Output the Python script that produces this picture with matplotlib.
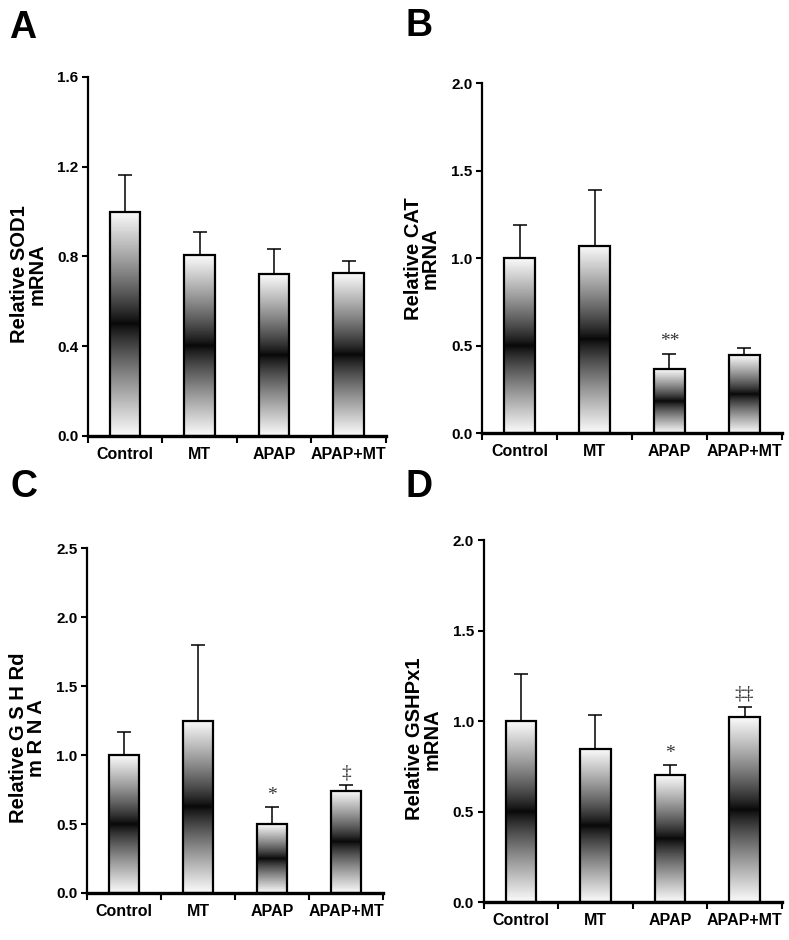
import numpy as np
import matplotlib.pyplot as plt

groups = ['Control', 'MT', 'APAP', 'APAP+MT']

sod1 = [1.0, 0.805, 0.72, 0.725]
sod1_err = [0.165, 0.105, 0.115, 0.055]

cat = [1.0, 1.07, 0.365, 0.445]
cat_err = [0.19, 0.32, 0.09, 0.045]

gshrd = [1.0, 1.25, 0.50, 0.74]
gshrd_err = [0.165, 0.55, 0.12, 0.04]

gshpx1 = [1.0, 0.845, 0.70, 1.02]
gshpx1_err = [0.26, 0.19, 0.055, 0.06]

marks_b = ['', '', '**', '']
marks_c = ['', '', '*', '\u2021']
marks_d = ['', '', '*', '\u2021\u2021']

sans = ['Liberation Sans', 'DejaVu Sans']
serif = ['Liberation Serif', 'DejaVu Serif']

fig = plt.figure(figsize=(7.89, 9.40), dpi=100)

# gradient: white at ends, black in the middle of each bar
t = np.linspace(0, 1, 200)
grad = 0.03 + 0.95 * np.abs(2 * t - 1) ** 0.85
grad = grad[:, None]


def panel(rect, vals, errs, ymax, step, ylabel, letter, letter_pos, marks, label_y):
    ax = fig.add_axes(rect)
    x = np.arange(len(vals))
    w = 0.41
    for xi, v in zip(x, vals):
        ax.imshow(grad, cmap='gray', vmin=0, vmax=1, aspect='auto',
                  extent=[xi - w / 2, xi + w / 2, 0, v], zorder=1,
                  interpolation='bilinear')
    ax.bar(x, vals, width=w, facecolor='none', edgecolor='black',
           linewidth=1.6, zorder=2)
    ax.errorbar(x, vals, yerr=[np.zeros(len(errs)), errs], fmt='none',
                ecolor='black', elinewidth=1.1, capsize=5, capthick=1.1,
                zorder=1.5)
    for xi, v, e, m in zip(x, vals, errs, marks):
        if m:
            ax.text(xi, v + e + ymax * 0.01, m, ha='center', va='bottom',
                    fontsize=14, family=serif, color='#333333')
    ax.set_xlim(-0.5, len(vals) - 0.5)
    ax.set_ylim(0, ymax)
    ticks = np.arange(0, ymax + 1e-9, step)
    ax.set_yticks(ticks)
    ax.set_yticklabels(['%.1f' % v for v in ticks],
                       family=sans, fontweight='bold', fontsize=11)
    ax.set_xticks(x)
    ax.set_xticklabels(groups, family=sans, fontweight='bold', fontsize=11.5)
    ax.set_xticks(np.arange(-0.5, len(vals)), minor=True)
    ax.tick_params(axis='x', which='major', length=0, pad=8)
    ax.tick_params(axis='x', which='minor', length=5, width=1.5)
    ax.tick_params(axis='y', length=4, width=1.5, pad=3)
    for s in ['top', 'right']:
        ax.spines[s].set_visible(False)
    ax.spines['left'].set_linewidth(1.6)
    ax.spines['bottom'].set_linewidth(2.4)
    ax.set_ylabel(ylabel, family=sans, fontweight='bold', fontsize=14.5,
                  linespacing=0.9)
    ax.yaxis.set_label_coords(-0.14, label_y)
    fig.text(letter_pos[0], letter_pos[1], letter, fontsize=27,
             fontweight='bold', family=sans, va='baseline', ha='left')
    return ax


panel([0.1115, 0.5362, 0.3775, 0.382], sod1, sod1_err, 1.6, 0.4,
      'Relative SOD1\nmRNA', 'A', (0.011, 0.960), ['', '', '', ''], 0.45)
panel([0.611, 0.539, 0.380, 0.3723], cat, cat_err, 2.0, 0.5,
      'Relative CAT\nmRNA', 'B', (0.514, 0.962), marks_b, 0.5)
panel([0.1103, 0.050, 0.375, 0.367], gshrd, gshrd_err, 2.5, 0.5,
      'Relative G S H Rd\nm R N A', 'C', (0.013, 0.471), marks_c, 0.45)
panel([0.613, 0.0404, 0.378, 0.3851], gshpx1, gshpx1_err, 2.0, 0.5,
      'Relative GSHPx1\nmRNA', 'D', (0.514, 0.471), marks_d, 0.45)

fig.savefig('out.png', dpi=100)
